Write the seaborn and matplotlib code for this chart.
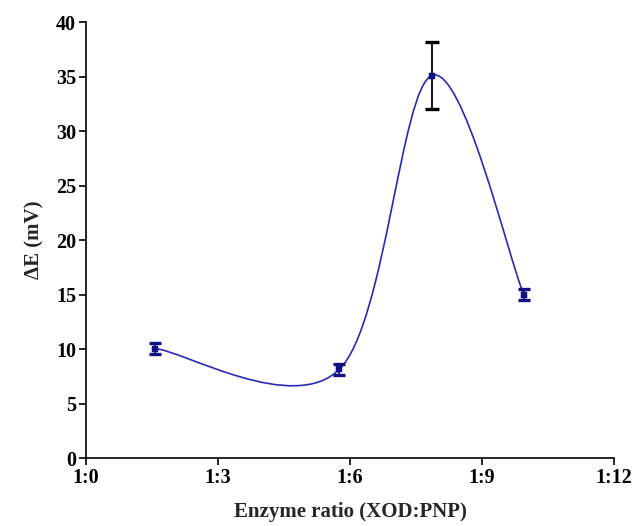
import numpy as np
import matplotlib
matplotlib.use('Agg')
import matplotlib.pyplot as plt
from matplotlib.path import Path
from matplotlib.patches import PathPatch
import seaborn as sns

# Data
ratio = [1.58, 5.76, 7.86, 9.95]          # PNP parts per 1 XOD
delta_e = [10.05, 8.15, 35.1, 15.0]       # mV
delta_e_err = [0.5, 0.5, 3.1, 0.5]
x_ticks = [0, 3, 6, 9, 12]
x_tick_labels = ['1:0', '1:3', '1:6', '1:9', '1:12']
y_ticks = [0, 5, 10, 15, 20, 25, 30, 35, 40]

line_color = '#2a2ab4'
point_color = '#101080'


def smooth_path(xs, ys):
    """Excel-style smoothed line: cubic Bezier segments (Catmull-Rom control points)."""
    pts = np.column_stack([xs, ys])
    n = len(pts)
    verts = [pts[0]]
    codes = [Path.MOVETO]
    for i in range(n - 1):
        p_prev = pts[i - 1] if i > 0 else pts[i]
        p_next = pts[i + 2] if i + 2 < n else pts[i + 1]
        c1 = pts[i] + (pts[i + 1] - p_prev) / 6.0
        c2 = pts[i + 1] - (p_next - pts[i]) / 6.0
        verts += [c1, c2, pts[i + 1]]
        codes += [Path.CURVE4] * 3
    return Path(verts, codes)


sns.set_style('ticks')
plt.rcParams['font.family'] = ['Liberation Serif', 'DejaVu Serif']
plt.rcParams['font.weight'] = 'bold'

fig = plt.figure(figsize=(6.32, 5.26), dpi=100)
ax = fig.add_axes([0.136, 0.129, 0.8355, 0.829])

# smoothed curve through the means
ax.add_patch(PathPatch(smooth_path(ratio, delta_e), fill=False,
                       edgecolor=line_color, linewidth=1.2, zorder=2))

# error bars: the large one in black, the small ones in navy
err = np.array(delta_e_err)
big = err > 1
for mask, col, cap in [(big, 'black', 5), (~big, point_color, 4)]:
    ax.errorbar(np.array(ratio)[mask], np.array(delta_e)[mask], yerr=err[mask],
                fmt='none', ecolor=col, elinewidth=1.3, capsize=cap,
                capthick=2.4, zorder=3)
sns.scatterplot(x=ratio, y=delta_e, ax=ax, marker='s', s=20,
                color=point_color, edgecolor=point_color, zorder=4)

ax.set_xlim(0, 12)
ax.set_ylim(0, 40)
ax.set_xticks(x_ticks)
ax.set_xticklabels(x_tick_labels)
ax.set_yticks(y_ticks)
ax.tick_params(axis='both', direction='out', length=5, width=1.2,
               labelsize=14.5, colors='black', pad=2)
for lab in ax.get_xticklabels() + ax.get_yticklabels():
    lab.set_fontweight('bold')

sns.despine(ax=ax)
for side in ['left', 'bottom']:
    ax.spines[side].set_linewidth(1.2)
    ax.spines[side].set_color('black')

ax.set_xlabel('Enzyme ratio (XOD:PNP)', fontsize=15, fontweight='bold', labelpad=10)
ax.set_ylabel('ΔE (mV)', fontsize=15, fontweight='bold', labelpad=8)

fig.savefig('out.png', dpi=100, facecolor='white')
